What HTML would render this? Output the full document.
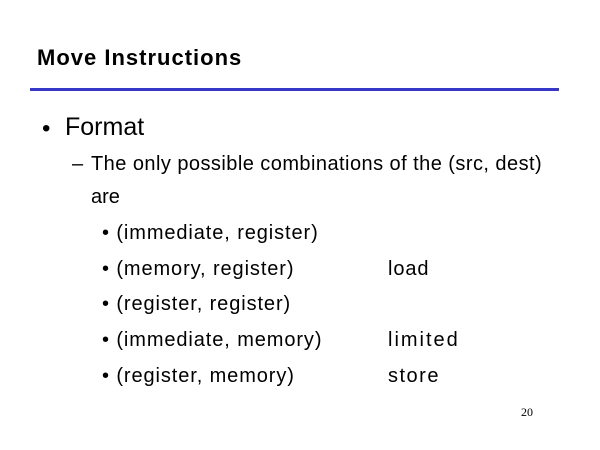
<!DOCTYPE html>
<html><head><style>
body{margin:0;width:600px;height:450px;background:#fff;position:relative;overflow:hidden;font-family:"Liberation Sans",sans-serif;color:#000}
div{position:absolute;white-space:nowrap}
.l3{font-size:20px;letter-spacing:0.9px}
</style></head><body>
<div style="left:37px;top:45px;font-size:22px;font-weight:bold;letter-spacing:1px">Move Instructions</div>
<div style="left:30px;top:88px;width:529px;height:3px;background:#3838c8"></div>
<div style="left:42px;top:115px;font-size:24px">•</div>
<div style="left:65px;top:113px;font-size:25px">Format</div>
<div style="left:72px;top:153px;font-size:20px">–</div>
<div style="left:91px;top:153px;font-size:20px;letter-spacing:0.45px">The only possible combinations of the (src, dest)</div>
<div style="left:91px;top:186px;font-size:20px">are</div>
<div class="l3" style="left:102px;top:222px">•&nbsp;(immediate, register)</div>
<div class="l3" style="left:102px;top:258px">•&nbsp;(memory, register)</div>
<div class="l3" style="left:388px;top:258px">load</div>
<div class="l3" style="left:102px;top:293px">•&nbsp;(register, register)</div>
<div class="l3" style="left:102px;top:329px">•&nbsp;(immediate, memory)</div>
<div class="l3" style="left:388px;top:329px;letter-spacing:2px">limited</div>
<div class="l3" style="left:102px;top:365px">•&nbsp;(register, memory)</div>
<div class="l3" style="left:388px;top:365px;letter-spacing:1.5px">store</div>
<div style="left:521px;top:405px;font-size:12px;font-family:'Liberation Serif',serif">20</div>
</body></html>
